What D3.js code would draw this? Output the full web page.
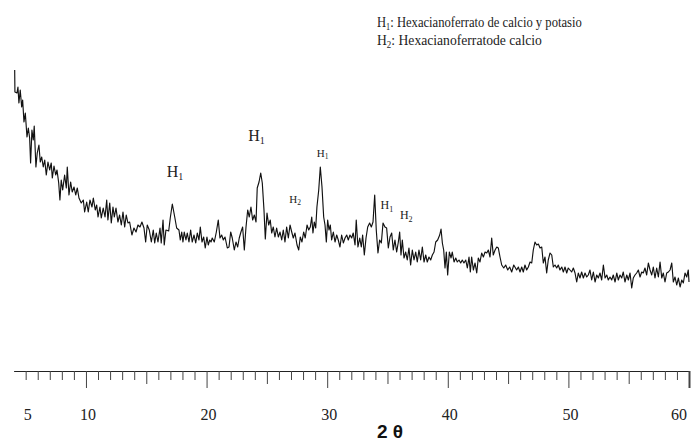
<!DOCTYPE html>
<html>
<head>
<meta charset="utf-8">
<script src="https://cdn.jsdelivr.net/npm/d3@7/dist/d3.min.js"></script>
<style>
  html, body { margin: 0; padding: 0; background: #fff; }
  svg { display: block; }
  .serif { font-family: "Liberation Serif", "Times New Roman", serif; fill: #222; }
</style>
</head>
<body>
<svg id="chart" width="694" height="441"></svg>
<script>
// Diffraction pattern: 2θ (degrees) and intensity (arbitrary units)
const twoTheta = [
  4.09,4.11,4.28,4.36,4.44,4.55,4.67,4.75,4.86,4.97,5.11,5.22,5.33,5.41,5.52,5.63,5.71,5.85,5.96,6.10,
  6.21,6.33,6.46,6.58,6.71,6.85,6.99,7.12,7.21,7.35,7.49,7.60,7.74,7.84,7.95,8.07,8.23,8.37,8.45,8.59,
  8.73,8.86,9.01,9.15,9.28,9.42,9.61,9.78,9.89,10.06,10.19,10.33,10.50,10.61,10.77,10.89,11.00,11.16,11.27,11.43,
  11.58,11.72,11.82,11.97,12.10,12.24,12.35,12.49,12.65,12.79,12.93,13.07,13.21,13.34,13.48,13.62,13.81,13.98,14.15,14.31,
  14.48,14.64,14.81,14.95,15.08,15.25,15.42,15.58,15.70,15.83,15.97,16.14,16.24,16.39,16.49,16.63,16.86,16.99,17.16,17.36,
  17.52,17.71,17.82,17.94,18.04,18.15,18.29,18.40,18.54,18.68,18.81,18.96,19.10,19.23,19.37,19.48,19.62,19.76,19.89,20.03,
  20.14,20.26,20.37,20.47,20.64,20.81,20.97,21.11,21.25,21.39,21.53,21.72,21.86,22.00,22.13,22.30,22.44,22.58,22.71,22.85,
  22.99,23.13,23.27,23.41,23.54,23.68,23.82,23.96,24.10,24.20,24.35,24.49,24.62,24.76,24.87,25.01,25.15,25.28,25.40,25.53,
  25.67,25.81,25.95,26.09,26.23,26.36,26.50,26.64,26.78,26.92,27.06,27.19,27.33,27.50,27.64,27.77,27.91,28.05,28.18,28.33,
  28.47,28.60,28.72,28.82,28.93,29.05,29.15,29.30,29.43,29.57,29.71,29.82,29.93,30.04,30.15,30.26,30.37,30.51,30.65,30.79,
  30.92,31.06,31.20,31.34,31.48,31.62,31.75,31.89,32.03,32.16,32.31,32.41,32.55,32.70,32.83,32.94,33.08,33.22,33.36,33.52,
  33.66,33.80,33.94,34.07,34.21,34.35,34.49,34.63,34.79,34.93,35.07,35.21,35.35,35.48,35.62,35.76,35.90,36.01,36.12,36.23,
  36.37,36.51,36.64,36.78,36.92,37.06,37.20,37.34,37.47,37.61,37.75,37.89,38.03,38.17,38.30,38.44,38.58,38.72,38.86,39.00,
  39.16,39.33,39.44,39.55,39.66,39.77,39.88,39.99,40.13,40.27,40.37,40.52,40.66,40.79,40.93,41.07,41.20,41.34,41.49,41.62,
  41.76,41.87,41.98,42.12,42.26,42.40,42.53,42.67,42.81,42.95,43.09,43.23,43.36,43.50,43.64,43.77,43.92,44.06,44.19,44.33,
  44.47,44.64,44.80,44.97,45.13,45.30,45.47,45.71,45.85,45.99,46.13,46.26,46.40,46.54,46.68,46.82,46.96,47.09,47.23,47.37,
  47.51,47.65,47.79,47.92,48.06,48.20,48.33,48.48,48.62,48.75,48.89,49.03,49.16,49.30,49.45,49.58,49.72,49.86,49.99,50.13,
  50.27,50.41,50.55,50.69,50.82,50.96,51.10,51.24,51.38,51.52,51.65,51.79,51.93,52.07,52.21,52.35,52.48,52.62,52.76,52.90,
  53.04,53.18,53.31,53.45,53.59,53.72,53.87,54.01,54.14,54.28,54.42,54.55,54.69,54.84,54.97,55.11,55.25,55.38,55.52,55.66,
  55.80,55.94,56.08,56.21,56.35,56.49,56.63,56.77,56.91,57.04,57.18,57.32,57.46,57.60,57.74,57.87,58.01,58.15,58.29,58.43,
  58.57,58.70,58.84,58.98,59.12,59.26,59.40,59.53,59.67,59.81,59.94,60.00
];
const intensity = [
  302,280,279,285,269,282,265,272,250,259,235,244,234,209,242,232,246,205,219,227,
  210,215,205,212,197,210,202,209,194,206,197,202,189,172,192,182,197,184,205,177,
  190,180,185,177,184,174,169,172,160,170,160,172,165,174,162,167,155,165,154,164,
  155,172,152,169,149,165,155,164,150,157,147,160,145,157,149,150,137,144,140,147,
  145,150,144,130,147,142,130,142,129,139,130,144,129,152,127,142,141,154,168,155,
  144,142,132,140,130,140,132,139,130,142,130,137,129,139,132,145,130,135,124,135,
  127,132,130,134,130,140,152,134,137,132,135,124,125,140,134,122,130,125,134,140,
  145,122,145,162,155,165,152,157,150,184,190,199,189,162,133,159,147,152,139,145,
  135,144,135,140,132,142,130,145,134,147,140,134,139,127,122,135,130,140,134,147,
  142,145,155,139,150,144,165,182,205,185,155,147,130,152,142,147,132,140,130,137,
  132,125,137,129,134,137,132,137,134,139,127,152,125,134,125,137,117,134,145,149,
  145,150,177,142,119,132,129,149,145,144,124,135,139,122,132,120,130,140,117,132,
  114,120,112,124,107,122,112,120,110,122,112,125,110,117,110,115,112,117,120,130,
  132,137,143,129,122,104,120,97,120,114,120,110,114,110,112,109,112,109,112,104,
  115,100,115,102,109,99,114,110,119,115,120,119,122,115,134,117,122,125,124,115,
  107,104,107,102,105,100,107,102,105,100,105,100,107,102,105,110,109,122,130,127,
  128,124,125,109,115,99,112,119,117,105,107,104,107,102,105,100,105,99,104,102,
  100,104,99,90,99,94,100,94,99,95,97,102,92,100,90,97,94,99,92,107,
  94,97,92,95,92,97,90,99,92,97,94,100,90,97,92,99,84,94,97,99,
  102,95,100,99,104,97,109,102,97,105,94,104,95,110,94,99,90,99,100,102,
  109,90,95,87,94,85,92,89,99,95,102,90
];

// Axis ticks and labels
const tickLabelValues = [5, 10, 20, 30, 40, 50, 60];
const majorTicks = [10, 20, 30, 40, 50, 60];
const midTicks = [15, 25, 35, 45, 55];
const minorTicks = d3.range(5, 61);
const axisTitle = "2 θ";

// Legend entries: phase symbol, subscript, description
const legendSymbols = ["H", "H"];
const legendSubs = ["1", "2"];
const legendNames = ["Hexacianoferrato de calcio y potasio", "Hexacianoferratode calcio"];

// Peak labels: phase subscript, anchor 2θ and anchor intensity, size class
const peakSubs = ["1", "1", "2", "1", "1", "2"];
const peakTheta = [16.69, 23.46, 26.86, 29.13, 34.43, 36.03];
const peakLevel = [195, 231, 169, 215, 163, 153];
const peakSize = ["lg", "lg", "sm", "sm", "md", "md"];

const svg = d3.select("#chart");

const x = d3.scaleLinear().domain([4, 60]).range([13.6, 689]);
const y = d3.scaleLinear().domain([0, 320]).range([372, 52]);
const axisY = 371;

// Pattern trace
const pts = twoTheta.map((t, i) => [t, intensity[i]]);
svg.append("path")
  .datum(pts)
  .attr("fill", "none")
  .attr("stroke", "#111")
  .attr("stroke-width", 1.15)
  .attr("stroke-linejoin", "round")
  .attr("d", d3.line().x(d => x(d[0])).y(d => y(d[1])));

// Bottom axis with three tick lengths
const axisG = svg.append("g").attr("transform", `translate(0,${axisY})`);
axisG.call(d3.axisBottom(x).tickValues(minorTicks).tickSize(9).tickSizeOuter(0).tickFormat(""));
axisG.select(".domain").attr("stroke", "#222").attr("stroke-width", 1.2);
axisG.selectAll(".tick line")
  .attr("stroke", "#444")
  .attr("stroke-width", 1)
  .attr("y2", d => majorTicks.includes(d) ? 17 : (midTicks.includes(d) ? 13 : 9));
axisG.selectAll(".tick")
  .filter(d => d === 60)
  .select("line").attr("stroke-width", 2);

// Tick labels
svg.append("g").selectAll("text")
  .data(tickLabelValues)
  .join("text")
  .attr("class", "serif")
  .attr("x", d => d === 60 ? x(d) - 2 : x(d) + 2)
  .attr("y", 420)
  .attr("text-anchor", d => d === 60 ? "end" : "middle")
  .attr("font-size", 16)
  .text(d => d);

// Axis title
svg.append("text")
  .attr("x", 390)
  .attr("y", 438)
  .attr("text-anchor", "middle")
  .attr("font-family", "Liberation Sans, Arial, sans-serif")
  .attr("font-weight", "bold")
  .attr("font-size", 19)
  .attr("fill", "#111")
  .text(axisTitle);

// Legend: each line narrowed horizontally to its target width
const legendWidths = [205, 165];
legendNames.forEach((name, i) => {
  const g = svg.append("g");
  const t = g.append("text")
    .attr("class", "serif")
    .attr("font-size", 14.5);
  t.append("tspan").text(legendSymbols[i]);
  t.append("tspan").attr("font-size", 9.5).attr("dy", 3).text(legendSubs[i]);
  t.append("tspan").attr("dy", -3).text(": " + name);
  const w = t.node().getComputedTextLength();
  g.attr("transform", `translate(377,${27 + i * 18}) scale(${legendWidths[i] / w},1)`);
});

// Peak labels
const sizeMain = { lg: 16, md: 12, sm: 11 };
const sizeSub = { lg: 10, md: 8, sm: 7.5 };
const subDrop = { lg: 3, md: 2.5, sm: 2 };
peakSubs.forEach((s, i) => {
  const k = peakSize[i];
  const t = svg.append("text")
    .attr("class", "serif")
    .attr("x", x(peakTheta[i]))
    .attr("y", y(peakLevel[i]))
    .attr("font-size", sizeMain[k]);
  t.append("tspan").text("H");
  t.append("tspan").attr("font-size", sizeSub[k]).attr("dy", subDrop[k]).text(s);
});
</script>
</body>
</html>
